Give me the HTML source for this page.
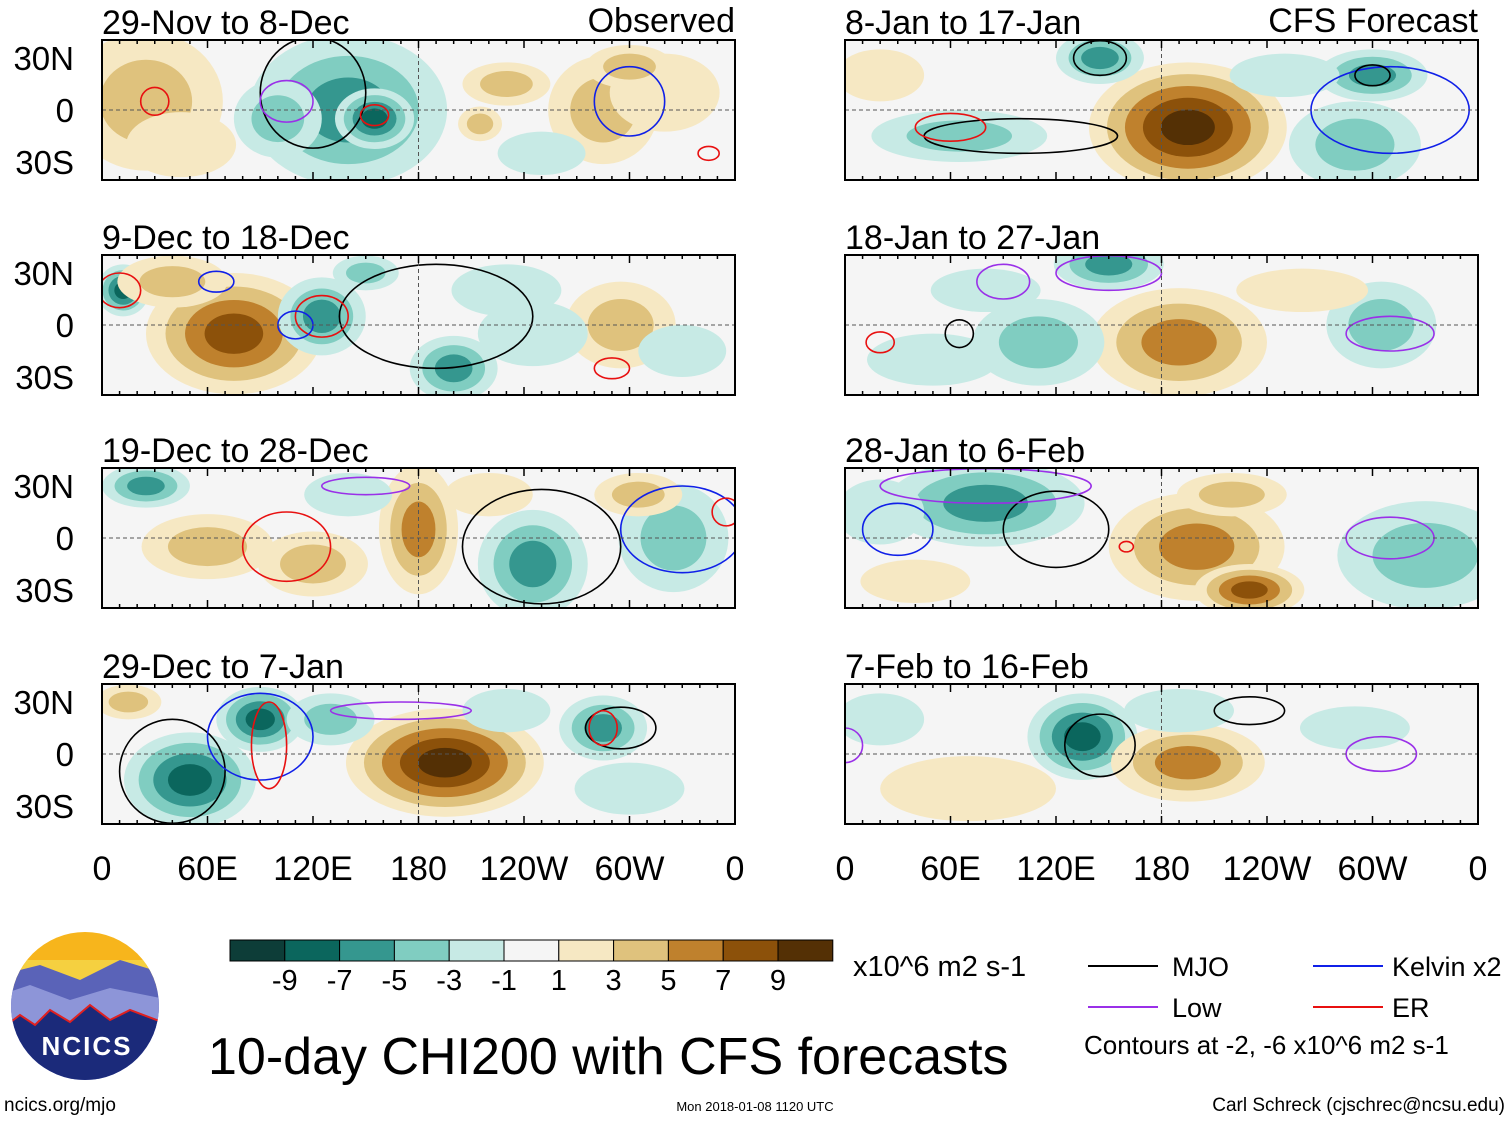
<!DOCTYPE html>
<html><head><meta charset="utf-8">
<style>
body{margin:0;background:#fff;width:1510px;height:1121px;overflow:hidden;font-family:"Liberation Sans",sans-serif;}
svg text{font-family:"Liberation Sans",sans-serif;}
</style></head>
<body>
<svg id="fig" width="1510" height="1121" viewBox="0 0 1510 1121" xmlns="http://www.w3.org/2000/svg"></svg>
<script>
// ---- data ----
const panelTitles = ["29-Nov to 8-Dec","9-Dec to 18-Dec","19-Dec to 28-Dec","29-Dec to 7-Jan","8-Jan to 17-Jan","18-Jan to 27-Jan","28-Jan to 6-Feb","7-Feb to 16-Feb"];
const levelEdges = [-9,-7,-5,-3,-1,1,3,5,7,9];
const levelColors = ["#0d3d38","#0b665d","#35978f","#80cdc1","#c7eae5","#f5f5f5","#f6e8c3","#dfc27d","#bf812d","#8c510a","#543005"];
const lonTickLabels = ["0","60E","120E","180","120W","60W","0"];
const latTickLabels = ["30N","0","30S"];
// anomaly blobs: [lon, lat, lonRadius, latRadius, peakValue]
const blobs0 = [[25,5,35,32,3],[45,-20,25,15,1],[140,0,45,35,-5],[155,-5,18,14,-8],[100,-5,20,18,-3],[285,0,25,25,3],[215,-8,10,8,3],[230,15,20,10,3],[320,10,25,18,1],[300,25,20,10,3],[250,-25,20,10,-1]];
const blobs1 = [[75,-5,40,28,7],[125,5,20,18,-6],[12,20,12,12,-8],[200,-25,20,15,-6],[295,0,25,20,3],[245,-5,25,15,-2],[40,25,25,12,3],[150,30,15,8,-3],[230,20,25,12,-1],[330,-15,20,12,-2]];
const blobs2 = [[180,5,18,30,5],[245,-15,25,25,-5],[25,30,20,10,-6],[60,-5,30,15,3],[120,-15,25,15,3],[325,0,25,25,-3],[220,25,20,10,2],[305,25,20,10,3],[140,25,20,10,-2]];
const blobs3 = [[50,-15,30,22,-7],[90,20,20,15,-7],[195,-5,45,25,9],[285,15,20,15,-5],[130,20,20,12,-3],[15,30,15,8,3],[300,-20,25,12,-2],[230,25,20,10,-2]];
const blobs4 = [[195,-10,45,30,9],[65,-15,40,12,-3],[145,30,20,12,-5],[300,20,25,12,-5],[290,-20,30,20,-3],[20,20,20,12,1],[250,20,25,10,-1]];
const blobs5 = [[150,35,25,12,-6],[190,-10,40,25,5],[110,-10,30,20,-3],[305,0,25,20,-3],[80,20,25,10,-2],[260,20,30,10,1],[50,-20,30,12,-1]];
const blobs6 = [[80,20,45,20,-5],[200,-5,40,25,5],[230,-30,25,12,7],[330,-10,40,25,-3],[220,25,25,10,3],[40,-25,25,10,1],[20,15,20,15,-2]];
const blobs7 = [[135,10,25,20,-7],[195,-5,35,18,5],[70,-20,40,15,1],[190,25,25,10,-2],[290,15,25,10,-1],[20,20,20,12,-1]];
const allBlobs = [blobs0,blobs1,blobs2,blobs3,blobs4,blobs5,blobs6,blobs7];
// contours: [lon, lat, lonRadius, latRadius, type]
const contours = [
 [[120,10,30,32,"MJO"],[300,5,20,20,"Kelvin"],[30,5,8,8,"ER"],[155,-3,8,6,"ER"],[105,5,15,12,"Low"],[345,-25,6,4,"ER"]],
 [[190,5,55,30,"MJO"],[10,20,12,10,"ER"],[125,5,15,12,"ER"],[110,0,10,8,"Kelvin"],[65,25,10,6,"Kelvin"],[290,-25,10,6,"ER"]],
 [[250,-5,45,33,"MJO"],[105,-5,25,20,"ER"],[330,5,35,25,"Kelvin"],[150,30,25,5,"Low"],[355,15,8,8,"ER"]],
 [[40,-10,30,30,"MJO"],[90,10,30,25,"Kelvin"],[95,5,10,25,"ER"],[170,25,40,5,"Low"],[295,15,20,12,"MJO"],[285,15,8,10,"ER"]],
 [[100,-15,55,10,"MJO"],[60,-10,20,8,"ER"],[145,30,15,10,"MJO"],[310,0,45,25,"Kelvin"],[300,20,10,6,"MJO"]],
 [[65,-5,8,8,"MJO"],[20,-10,8,6,"ER"],[150,30,30,10,"Low"],[310,-5,25,10,"Low"],[90,25,15,10,"Low"]],
 [[120,5,30,22,"MJO"],[30,5,20,15,"Kelvin"],[310,0,25,12,"Low"],[160,-5,4,3,"ER"],[80,30,60,10,"Low"]],
 [[145,5,20,18,"MJO"],[230,25,20,8,"MJO"],[305,0,20,10,"Low"],[0,5,10,10,"Low"]]
];
const contourColors = {MJO:"#000",Kelvin:"#1020e8",ER:"#e81010",Low:"#9a30e8"};
// ---- layout ----
const NS="http://www.w3.org/2000/svg";
const fig=document.getElementById('fig');
function el(tag,attrs,parent){const e=document.createElementNS(NS,tag);for(const k in attrs)e.setAttribute(k,attrs[k]);(parent||fig).appendChild(e);return e;}
const colX=[102,845], rowY=[40,255,468,684], PW=633, PH=140;
function xScale(px,lon){return px+lon/360*PW;}
function yScale(py,lat){return py+70-lat*52/30;}
function colorFor(v){let i=0;while(i<levelEdges.length&&v>levelEdges[i])i++;return levelColors[i];}
allBlobs.forEach((blobs,p)=>{
  const px=colX[p<4?0:1], py=rowY[p%4];
  const g=el('g',{});
  
  
  const cid='clip'+p;
  const cp=el('clipPath',{id:cid},g);el('rect',{x:px,y:py,width:PW,height:PH},cp);
  const inner=el('g',{'clip-path':'url(#'+cid+')'},g);
  el('rect',{x:px,y:py,width:PW,height:PH,fill:"#f5f5f5"},inner);
  blobs.forEach(b=>{
    const [lon,lat,rl,ra,v]=b;const s=Math.sign(v);const n=Math.floor((Math.abs(v)+1)/2);
    for(let k=1;k<=n;k++){
      const f=1.25*(1-(k-1)/(n+0.5));
      const lvl=s*(2*k-1)+s*0.5;
      const e=el('ellipse',{cx:xScale(px,lon),cy:yScale(py,lat),rx:rl*f*PW/360,ry:ra*f*52/30,fill:colorFor(lvl)},inner);
      
      
    }
  });
  contours[p].forEach(c=>{
    const e=el('ellipse',{cx:xScale(px,c[0]),cy:yScale(py,c[1]),rx:c[2]*PW/360,ry:c[3]*52/30,fill:"none",stroke:contourColors[c[4]],'stroke-width':1.6},inner);
    
    
  });
  el('line',{x1:px,x2:px+PW,y1:yScale(py,0),y2:yScale(py,0),stroke:"#555",'stroke-dasharray':"4,3",'stroke-width':1},inner);
  el('line',{x1:xScale(px,180),x2:xScale(px,180),y1:py,y2:py+PH,stroke:"#555",'stroke-dasharray':"4,3",'stroke-width':1},inner);
  el('rect',{x:px,y:py,width:PW,height:PH,fill:"none",stroke:"#000",'stroke-width':2},g);
  for(let lon=0;lon<=360;lon+=10){const x=xScale(px,lon);const L=lon%60==0?8:4;
    el('line',{x1:x,x2:x,y1:py,y2:py+L,stroke:"#000",'stroke-width':1.5},g);
    el('line',{x1:x,x2:x,y1:py+PH,y2:py+PH-L,stroke:"#000",'stroke-width':1.5},g);}
  const t=el('text',{x:px,y:py-6,'font-size':34,fill:"#000",'textLength':0},g);t.removeAttribute('textLength');t.textContent=panelTitles[p];
  
  if(p<4){latTickLabels.forEach((s,i)=>{const lat=[30,0,-30][i];const tt=el('text',{x:74,y:yScale(py,lat)+12,'font-size':33,'text-anchor':'end'},g);tt.textContent=s;
    });}
});
[["Observed",735],["CFS Forecast",1478]].forEach(([s,x])=>{const t=el('text',{x:x,y:32,'font-size':34,'text-anchor':'end'});t.textContent=s;
  });
colX.forEach(px=>lonTickLabels.forEach((s,i)=>{const t=el('text',{x:xScale(px,i*60),y:880,'font-size':34,'text-anchor':'middle'});t.textContent=s;
  }));
// colorbar
const cb=el('g',{});
levelColors.forEach((c,i)=>el('rect',{x:230+i*54.8,y:940,width:54.8,height:21,fill:c,stroke:"#000",'stroke-width':1},cb));
levelEdges.forEach((v,i)=>{const t=el('text',{x:230+(i+1)*54.8,y:990,'font-size':29,'text-anchor':'middle'},cb);t.textContent=v;});
const u=el('text',{x:853,y:976,'font-size':29});u.textContent="x10^6 m2 s-1";
const ti=el('text',{x:208,y:1074,'font-size':52});ti.textContent="10-day CHI200 with CFS forecasts";
// legend
[["MJO","#000",1088,1172,966],["Kelvin x2","#1020e8",1313,1392,966],["Low","#9a30e8",1088,1172,1007],["ER","#e81010",1313,1392,1007]].forEach(l=>{
  const g=el('g',{});
  el('line',{x1:l[2],x2:l[2]+70,y1:l[4],y2:l[4],stroke:l[1],'stroke-width':2},g);
  const t=el('text',{x:l[3],y:l[4]+10,'font-size':27},g);t.textContent=l[0];});
const ct=el('text',{x:1084,y:1054,'font-size':26});ct.textContent="Contours at -2, -6 x10^6 m2 s-1";
// logo
const lg=el('g',{});
el('clipPath',{id:'lc'},lg).appendChild(el('circle',{cx:85,cy:1006,r:74},lg));
const lgi=el('g',{'clip-path':'url(#lc)'},lg);
el('rect',{x:0,y:930,width:170,height:60,fill:"#f7b51c"},lgi);
el('rect',{x:0,y:960,width:170,height:20,fill:"#f5d040"},lgi);
el('path',{d:"M0 975 L40 965 L80 980 L120 960 L170 975 L170 1090 L0 1090Z",fill:"#5a63b8"},lgi);
el('path',{d:"M0 995 L30 985 L70 1000 L110 988 L170 1000 L170 1090 L0 1090Z",fill:"#8d95d8"},lgi);
el('path',{d:"M0 1030 L20 1015 L35 1025 L50 1010 L70 1022 L90 1005 L110 1020 L130 1010 L170 1025 L170 1090 L0 1090Z",fill:"#1b2a7a",stroke:"#e02020",'stroke-width':2},lgi);
const nt=el('text',{x:87,y:1055,'font-size':26,'font-weight':'bold',fill:"#fff",'text-anchor':'middle','letter-spacing':2},lg);nt.textContent="NCICS";
[["ncics.org/mjo",4,1111,19,'start'],["Mon 2018-01-08 1120 UTC",755,1111,13,'middle'],["Carl Schreck (cjschrec@ncsu.edu)",1505,1111,19,'end']].forEach(f=>{
  const t=el('text',{x:f[1],y:f[2],'font-size':f[3],'text-anchor':f[4]});t.textContent=f[0];
  });
</script>
</body></html>
